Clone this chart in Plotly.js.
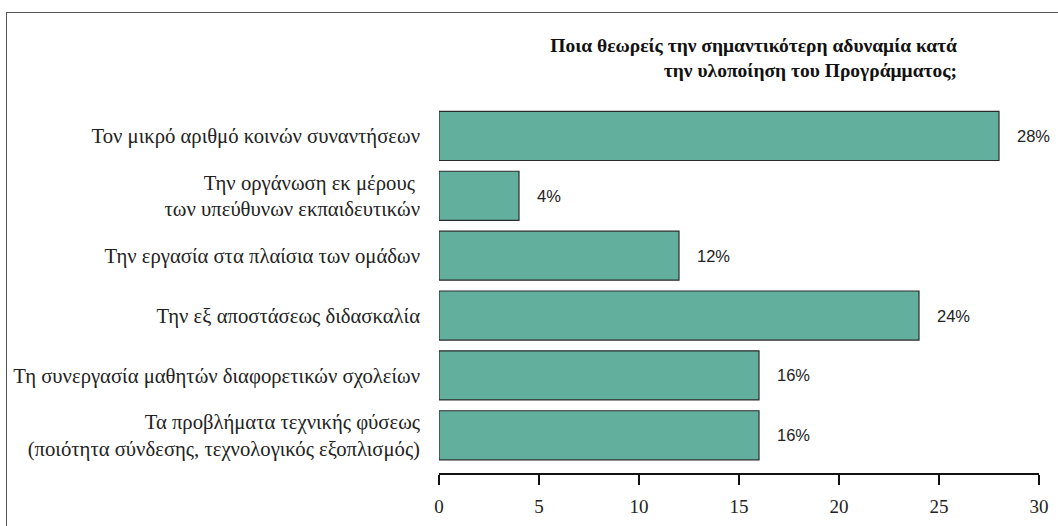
<!DOCTYPE html>
<html>
<head>
<meta charset="utf-8">
<script src="https://cdn.plot.ly/plotly-3.0.1.min.js"></script>
<style>
  html, body { margin: 0; padding: 0; background: #fff; }
  #wrap { position: relative; width: 1058px; height: 526px; overflow: hidden; }
  #chart { position: absolute; left: 0; top: 0; width: 1058px; height: 526px; }
  #frame { position: absolute; left: 6px; top: 12px; width: 1100px; height: 600px;
           border-top: 1.5px solid #555; border-left: 1.5px solid #555; pointer-events: none; }
</style>
</head>
<body>
<div id="wrap">
  <div id="chart"></div>
  <div id="frame"></div>
</div>
<script>
// Data
var categories = [
  "Τον μικρό αριθμό κοινών συναντήσεων",
  "Την οργάνωση εκ μέρους <br>των υπεύθυνων εκπαιδευτικών",
  "Την εργασία στα πλαίσια των ομάδων",
  "Την εξ αποστάσεως διδασκαλία",
  "Τη συνεργασία μαθητών διαφορετικών σχολείων",
  "Τα προβλήματα τεχνικής φύσεως<br>(ποιότητα σύνδεσης, τεχνολογικός εξοπλισμός)"
];
var values = [28, 4, 12, 24, 16, 16];
var valueLabels = ["28%", "4%", "12%", "24%", "16%", "16%"];
var xTicks = [0, 5, 10, 15, 20, 25, 30];
var chartTitle = "Ποια θεωρείς την σημαντικότερη αδυναμία κατά<br>την υλοποίηση του Προγράμματος;";

var serif = "Liberation Serif";
var sans = "Liberation Sans";

var trace = {
  type: "bar",
  orientation: "h",
  x: values,
  y: categories,
  marker: { color: "#62af9d", line: { color: "#2b2b2b", width: 1.2 } },
  hoverinfo: "none"
};

var annotations = values.map(function (v, i) {
  return {
    x: v, y: categories[i], xref: "x", yref: "y",
    text: valueLabels[i], showarrow: false,
    xanchor: "left", xshift: 16,
    font: { family: sans, size: 16.5, color: "#222" }
  };
});

var layout = {
  width: 1058, height: 526,
  paper_bgcolor: "#fff", plot_bgcolor: "#fff",
  margin: { l: 439, r: 19, t: 105.5, b: 52.7 },
  bargap: 0.18,
  showlegend: false,
  font: { family: serif },
  title: {
    text: chartTitle,
    font: { family: serif, size: 19.5, color: "#111", weight: "bold" },
    xref: "container", x: 957 / 1058, xanchor: "right",
    yref: "container", y: 1 - 52 / 526, yanchor: "top"
  },
  xaxis: {
    range: [0, 30],
    tickvals: xTicks,
    ticktext: xTicks.map(String),
    showgrid: false, zeroline: false,
    showline: true, linecolor: "#111", linewidth: 1.5,
    ticks: "outside", ticklen: 10, tickwidth: 1.5, tickcolor: "#111",
    ticklabelstandoff: 6,
    tickfont: { family: serif, size: 19, color: "#222" },
    fixedrange: true
  },
  yaxis: {
    type: "category",
    categoryorder: "array",
    categoryarray: categories,
    range: [5.63, -0.5],
    showgrid: false, zeroline: false, showline: false,
    ticks: "", ticklabelstandoff: 18,
    tickfont: { family: serif, size: 20.7, color: "#222" },
    fixedrange: true
  },
  annotations: annotations
};

Plotly.newPlot("chart", [trace], layout, { displayModeBar: false, staticPlot: true });
</script>
</body>
</html>
